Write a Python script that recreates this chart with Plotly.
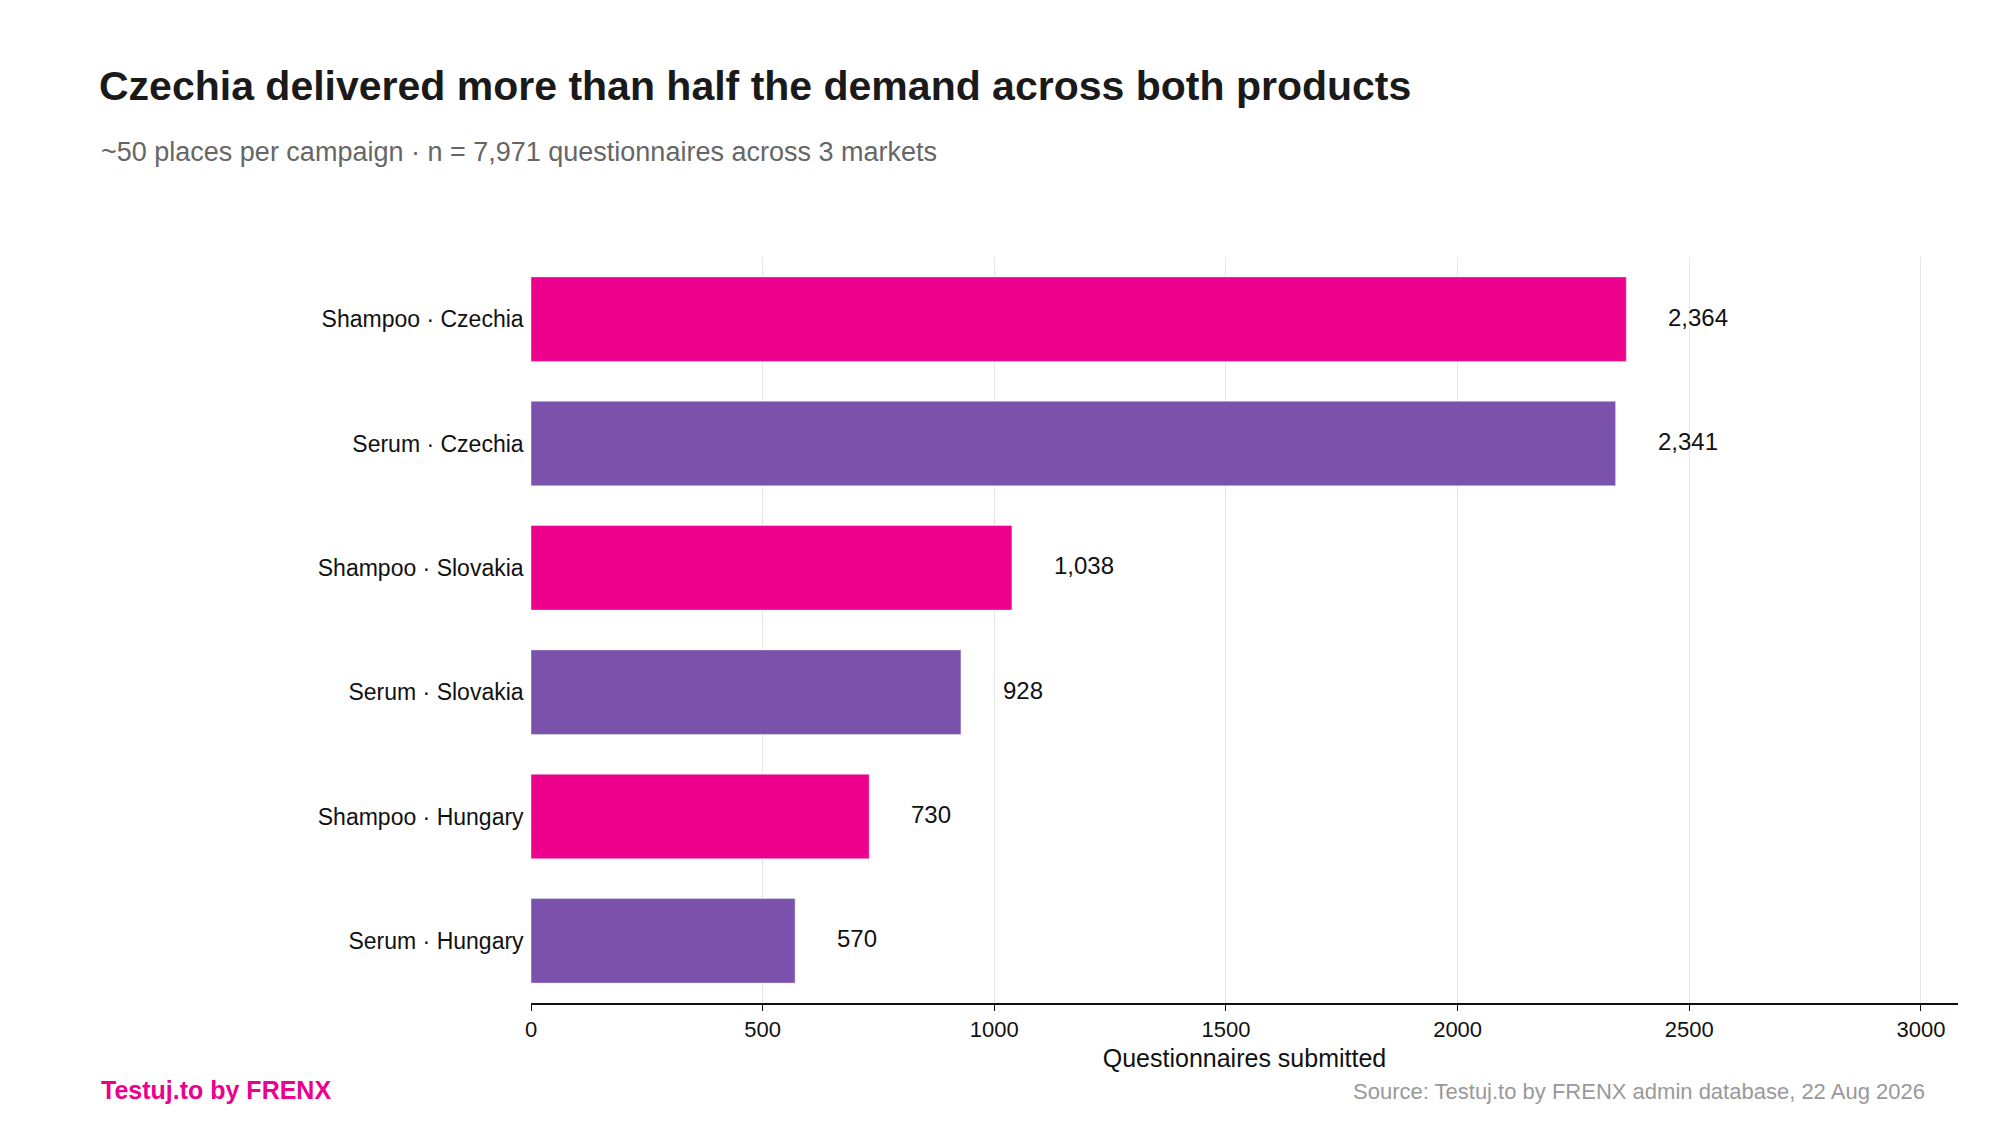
import plotly.graph_objects as go

categories = ["Shampoo · Czechia", "Serum · Czechia", "Shampoo · Slovakia",
              "Serum · Slovakia", "Shampoo · Hungary", "Serum · Hungary"]
values = [2364, 2341, 1038, 928, 730, 570]
colors = ["#EC008C", "#7B52AB", "#EC008C", "#7B52AB", "#EC008C", "#7B52AB"]
tick_vals = [0, 500, 1000, 1500, 2000, 2500, 3000]

font = "Liberation Sans, Arial, sans-serif"
fig = go.Figure(go.Bar(y=categories, x=values, orientation="h",
                       marker_color=colors, width=0.68, hoverinfo="skip"))
for c, v in zip(categories, values):
    fig.add_annotation(x=v, y=c, text=f"{v:,}", showarrow=False,
                       xanchor="left", xshift=40, yshift=2,
                       font=dict(size=24, color="#111", family=font))

fig.update_layout(
    width=2000, height=1125, plot_bgcolor="white", paper_bgcolor="white",
    margin=dict(l=523, r=50, t=249, b=130), showlegend=False,
    font=dict(family=font, color="#111"),
    title=dict(text="<b>Czechia delivered more than half the demand across both products</b>",
               x=91/2000, xanchor="left", y=1-78/1125, yanchor="middle",
               font=dict(size=41, color="#1a1a1a", family=font)),
    xaxis=dict(range=[0, 3080], tickvals=tick_vals, showgrid=True, gridcolor="#e6e6e6",
               zeroline=False, showline=True, linecolor="#111", linewidth=1.5,
               ticks="outside", ticklen=6, tickcolor="#111",
               tickfont=dict(size=22), title=dict(text="Questionnaires submitted",
               font=dict(size=25), standoff=8)),
    yaxis=dict(categoryorder="array", categoryarray=categories[::-1],
               tickfont=dict(size=23), ticks="", ticksuffix=" ", showline=False),
)
fig.add_annotation(text="~50 places per campaign · n = 7,971 questionnaires across 3 markets",
                   xref="paper", yref="paper", x=(91-523)/1427, y=1+(249-144)/746,
                   xanchor="left", yanchor="middle", showarrow=False,
                   font=dict(size=27, color="#666", family=font))
fig.add_annotation(text="<b>Testuj.to by FRENX</b>", xref="paper", yref="paper",
                   x=(91-523)/1427, y=-(1082-995)/746, xanchor="left", yanchor="middle",
                   showarrow=False, font=dict(size=25, color="#EC008C", family=font))
fig.add_annotation(text="Source: Testuj.to by FRENX admin database, 22 Aug 2026",
                   xref="paper", yref="paper", x=(1919-523)/1427, y=-(1083-995)/746,
                   xanchor="right", yanchor="middle", showarrow=False,
                   font=dict(size=22, color="#999", family=font))
fig.write_html("out.html")
